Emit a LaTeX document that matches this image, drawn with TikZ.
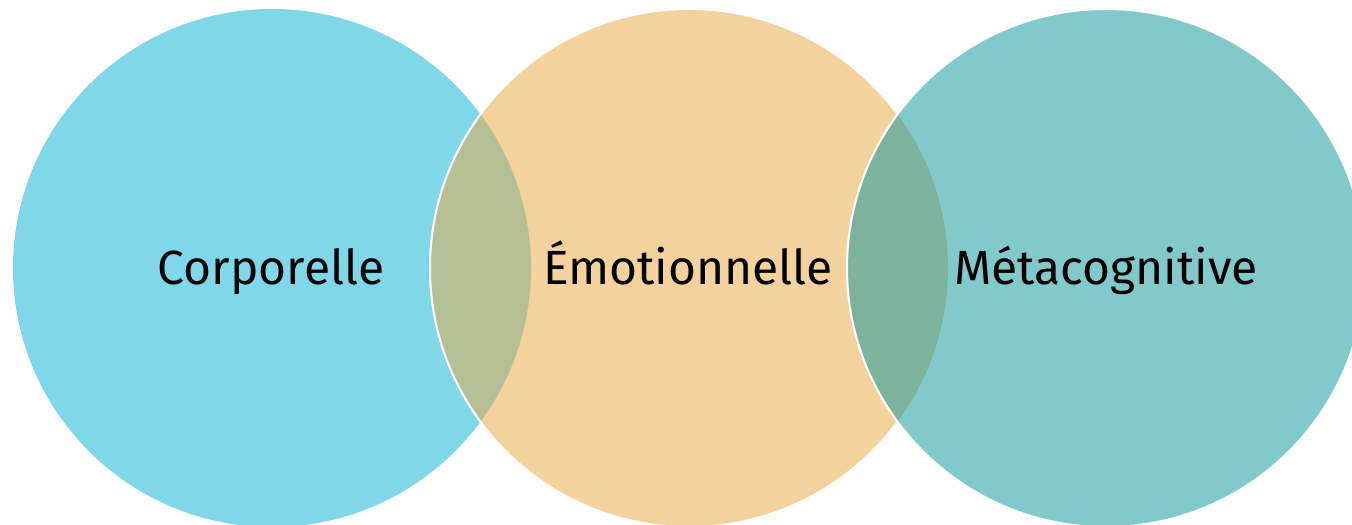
\documentclass[tikz,border=0pt]{standalone}
\usepackage{fontspec}
\setmainfont{Fira Sans}
\definecolor{cL}{HTML}{7FD7E8}
\definecolor{cM}{HTML}{F4D29E}
\definecolor{cR}{HTML}{82C9CC}
\definecolor{cLM}{HTML}{B6BF94}
\definecolor{cMR}{HTML}{7DB39E}
\tikzset{
  venn/.style={circle, inner sep=0pt, minimum size=259pt},
  lbl/.style={font=\fontsize{24}{27}\selectfont, text=black, inner sep=0pt, anchor=base},
}
\begin{document}
\begin{tikzpicture}[x=0.5pt,y=-0.5pt]
\useasboundingbox (0,0) rectangle (1352,524);
\clip (0,0) rectangle (1352,524);
\node[venn, fill=cL] (L) at (272,268) {};
\node[venn, fill=cM, draw=white, line width=1pt] (M) at (689,268) {};
\node[venn, fill=cR, draw=white, line width=1pt] (R) at (1106,268) {};
\begin{scope}
  \clip (272,268) circle[radius=259];
  \fill[cLM] (689,268) circle[radius=259];
  \draw[white, line width=1pt] (689,268) circle[radius=259];
\end{scope}
\begin{scope}
  \clip (689,268) circle[radius=259];
  \fill[cMR] (1106,268) circle[radius=259];
  \draw[white, line width=1pt] (1106,268) circle[radius=259];
\end{scope}
\node[lbl] (tL) at (271,284) {Corporelle};
\node[lbl] (tM) at (688,284) {Émotionnelle};
\node[lbl] (tR) at (1106,284) {Métacognitive};
\end{tikzpicture}
\end{document}
